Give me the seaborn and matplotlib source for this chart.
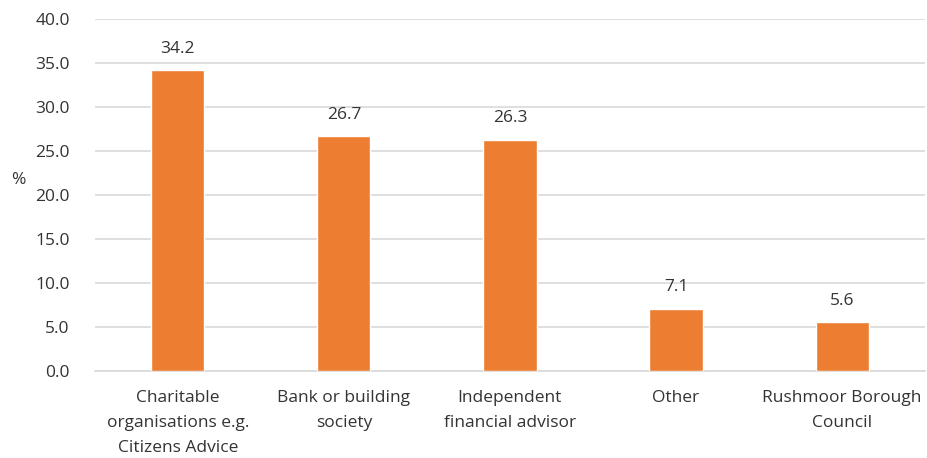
import matplotlib
matplotlib.use("Agg")
import matplotlib.pyplot as plt
import seaborn as sns
import pandas as pd

# data
categories = ["Charitable\norganisations e.g.\nCitizens Advice",
              "Bank or building\nsociety",
              "Independent\nfinancial advisor",
              "Other",
              "Rushmoor Borough\nCouncil"]
values = [34.2, 26.7, 26.3, 7.1, 5.6]
yticks = [0, 5, 10, 15, 20, 25, 30, 35, 40]

BAR = "#ED7D31"
GRID = "#D9D9D9"
TXT = "#333333"
FS = 12.5

sns.set_theme(style="white")
plt.rcParams["font.family"] = ["Open Sans", "DejaVu Sans"]

df = pd.DataFrame({"source": categories, "pct": values})

fig = plt.figure(figsize=(9.28, 4.58), dpi=100)
ax = fig.add_axes([0.102, 0.19, 0.895, 0.7685])

sns.barplot(data=df, x="source", y="pct", color=BAR, width=0.32,
            saturation=1, ax=ax, zorder=3)

for i, v in enumerate(values):
    ax.text(i, v + 1.5, f"{v:.1f}", ha="center", va="bottom",
            fontsize=FS, color=TXT)

ax.set_ylim(0, 40)
ax.set_yticks(yticks)
ax.set_yticklabels([f"{t:.1f}" for t in yticks], fontsize=FS, color=TXT)
ax.set_xticks(range(len(categories)))
ax.set_xticklabels(categories, fontsize=FS, color=TXT, linespacing=1.75)
ax.tick_params(axis="x", length=0, pad=14)
ax.tick_params(axis="y", length=0, pad=18)
ax.set_xlabel("")
ax.set_ylabel("%", rotation=0, fontsize=FS, color=TXT, va="center")
ax.yaxis.set_label_coords(-0.092, 0.543)

ax.grid(axis="y", color=GRID, linewidth=1.2, zorder=0)
ax.set_axisbelow(True)
for s in ["top", "right", "left"]:
    ax.spines[s].set_visible(False)
ax.spines["bottom"].set_color(GRID)
ax.spines["bottom"].set_linewidth(1.2)

plt.savefig("out.png", dpi=100)
